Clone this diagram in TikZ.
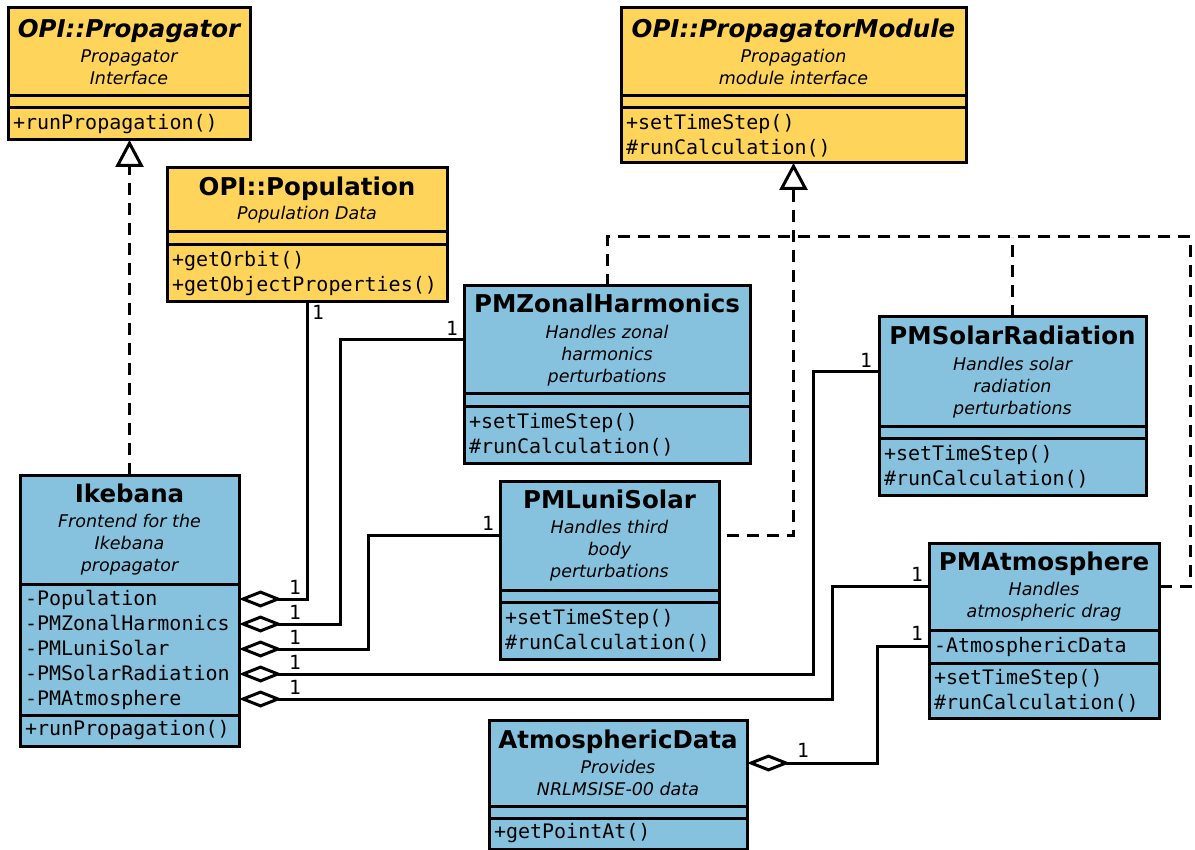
\documentclass[tikz,border=0pt]{standalone}
\usepackage{fontspec}
\setmainfont{DejaVu Sans}
\setmonofont{DejaVu Sans Mono}
\usetikzlibrary{arrows.meta,calc,positioning}
\definecolor{cIface}{HTML}{FFD45B}
\definecolor{cImpl}{HTML}{86C2DD}
\newcommand{\ttlfont}{\fontsize{24.5}{27}\selectfont\bfseries}
\newcommand{\subfont}{\fontsize{17.5}{22}\selectfont\itshape}
\newcommand{\memfont}{\fontsize{20}{25}\selectfont\ttfamily}
\tikzset{
  part/.style={draw=black, line width=3pt, inner xsep=5pt, inner ysep=0pt,
               outer sep=0pt, anchor=north west},
  ttl/.style={part, align=center, font=\subfont},
  mem/.style={part, align=left, font=\memfont},
  iface/.style={fill=cIface},
  impl/.style={fill=cImpl},
  conn/.style={line width=3pt},
  agg/.style={conn, {Diamond[open, length=43pt, width=17pt]}-},
  realize/.style={conn, dash pattern=on 12pt off 8pt, -{Triangle[open, length=27pt, width=28pt]}},
  realline/.style={conn, dash pattern=on 12pt off 8pt},
  mult/.style={font=\fontsize{19.5}{20}\selectfont\ttfamily, inner sep=0pt}
}

\begin{document}
\begin{tikzpicture}[x=1pt, y=-1pt]
\useasboundingbox (0,0) rectangle (1195,850);
% interfaces
\node[ttl, iface, minimum width=242pt, minimum height=88pt] (prop) at (8,8)
  {{\ttlfont OPI::Propagator}\\[2.5pt] Propagator\\ Interface};
\node[mem, iface, text width=232pt, minimum height=12pt] (prop-a) at (prop.south west) {};
\node[mem, iface, text width=232pt, minimum height=32pt] (prop-m) at (prop-a.south west) {+runPropagation()};

\node[ttl, iface, minimum width=280pt, minimum height=64pt] (pop) at (167,168)
  {{\ttlfont\upshape OPI::Population}\\[2.5pt] Population Data};
\node[mem, iface, text width=270pt, minimum height=13pt] (pop-a) at (pop.south west) {};
\node[mem, iface, text width=270pt, minimum height=57pt] (pop-m) at (pop-a.south west)
  {+getOrbit()\\ +getObjectProperties()};

\node[ttl, iface, minimum width=345pt, minimum height=88pt] (pmod) at (621,8)
  {{\ttlfont OPI::PropagatorModule}\\[2.5pt] Propagation\\ module interface};
\node[mem, iface, text width=335pt, minimum height=12pt] (pmod-a) at (pmod.south west) {};
\node[mem, iface, text width=335pt, minimum height=55pt] (pmod-m) at (pmod-a.south west)
  {+setTimeStep()\\ \#runCalculation()};

% frontend
\node[ttl, impl, minimum width=219pt, minimum height=109pt] (ike) at (20,475)
  {{\ttlfont\upshape Ikebana}\\[3.5pt] Frontend for the\\ Ikebana\\ propagator};
\node[mem, impl, text width=209pt, minimum height=131pt] (ike-a) at (ike.south west)
  {-Population\\ -PMZonalHarmonics\\ -PMLuniSolar\\ -PMSolarRadiation\\ -PMAtmosphere};
\node[mem, impl, text width=209pt, minimum height=31pt] (ike-m) at (ike-a.south west) {+runPropagation()};

% propagation modules
\node[ttl, impl, minimum width=286pt, minimum height=108pt] (zon) at (464,286)
  {{\ttlfont\upshape PMZonalHarmonics}\\[3.5pt] Handles zonal\\ harmonics\\ perturbations};
\node[mem, impl, text width=276pt, minimum height=13pt] (zon-a) at (zon.south west) {};
\node[mem, impl, text width=276pt, minimum height=56pt] (zon-m) at (zon-a.south west)
  {+setTimeStep()\\ \#runCalculation()};

\node[ttl, impl, minimum width=219pt, minimum height=109pt] (luni) at (500,481)
  {{\ttlfont\upshape PMLuniSolar}\\[3.5pt] Handles third\\ body\\ perturbations};
\node[mem, impl, text width=209pt, minimum height=12pt] (luni-a) at (luni.south west) {};
\node[mem, impl, text width=209pt, minimum height=57pt] (luni-m) at (luni-a.south west)
  {+setTimeStep()\\ \#runCalculation()};

\node[ttl, impl, minimum width=267pt, minimum height=110pt] (sol) at (879,317)
  {{\ttlfont\upshape PMSolarRadiation}\\[3.5pt] Handles solar\\ radiation\\ perturbations};
\node[mem, impl, text width=257pt, minimum height=12pt] (sol-a) at (sol.south west) {};
\node[mem, impl, text width=257pt, minimum height=56pt] (sol-m) at (sol-a.south west)
  {+setTimeStep()\\ \#runCalculation()};

\node[ttl, impl, minimum width=230pt, minimum height=87pt] (atm) at (929,543)
  {{\ttlfont\upshape PMAtmosphere}\\[2.5pt] Handles\\ atmospheric drag};
\node[mem, impl, text width=220pt, minimum height=33pt] (atm-a) at (atm.south west) {-AtmosphericData};
\node[mem, impl, text width=220pt, minimum height=55pt] (atm-m) at (atm-a.south west)
  {+setTimeStep()\\ \#runCalculation()};

\node[ttl, impl, minimum width=258pt, minimum height=86pt] (atmd) at (489,720)
  {{\ttlfont\upshape AtmosphericData}\\[2.5pt] Provides\\ NRLMSISE-00 data};
\node[mem, impl, text width=248pt, minimum height=12pt] (atmd-a) at (atmd.south west) {};
\node[mem, impl, text width=248pt, minimum height=31pt] (atmd-m) at (atmd-a.south west) {+getPointAt()};

% attribute hooks on the frontend
\coordinate (ikePop) at ($(ike-a.north east)+(0,15)$);
\coordinate (ikeZon) at ($(ike-a.north east)+(0,40)$);
\coordinate (ikeLun) at ($(ike-a.north east)+(0,65)$);
\coordinate (ikeSol) at ($(ike-a.north east)+(0,90)$);
\coordinate (ikeAtm) at ($(ike-a.north east)+(0,115)$);
\coordinate (bus) at (1190,237);

% realizations
\draw[realize] (ike.north) -- (ike.north |- prop-m.south);
\draw[realize, shorten <=8pt] (luni.east) -| (pmod-m.south);
\draw[realline] (zon.north) |- (bus) |- (atm.east);
\draw[realline] (sol.north) -- (sol.north |- bus);

% aggregations
\draw[agg] (ikePop) -| (pop-m.south);
\draw[agg] (ikeZon) -- ++(101,0) |- (zon.west);
\draw[agg] (ikeLun) -- ++(129,0) |- (luni.west);
\draw[agg] (ikeSol) -- ++(574,0) |- (sol.west);
\draw[agg] (ikeAtm) -- ++(593,0) |- (atm.west);
\draw[agg] (atmd.east) -- ++(130,0) |- (atm-a.west);

% multiplicities
\foreach \y in {587,612,637,662,687} \node[mult] at (295,\y) {1};
\node[mult] at (318,312) {1};
\node[mult] at (452,328) {1};
\node[mult] at (488,523) {1};
\node[mult] at (866,360) {1};
\node[mult] at (917,574) {1};
\node[mult] at (917,633) {1};
\node[mult] at (803,750) {1};
\end{tikzpicture}
\end{document}
